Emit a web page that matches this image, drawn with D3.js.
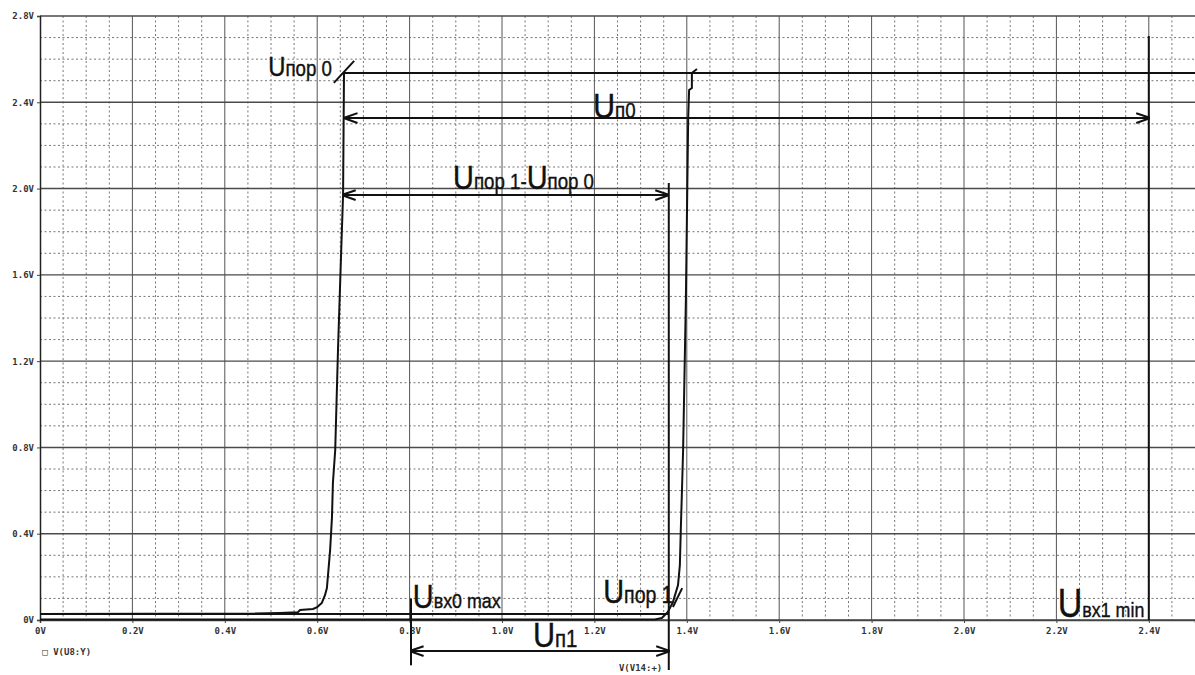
<!DOCTYPE html>
<html>
<head>
<meta charset="utf-8">
<script src="https://cdn.jsdelivr.net/npm/d3@7/dist/d3.min.js"></script>
<style>
  body { margin: 0; background: #fff; }
  text { font-family: "DejaVu Sans Mono", monospace; }
</style>
</head>
<body>
<div id="chart"></div>
<script>
/*global d3*/

// tick values and labels (volts)
var xTicks = [0, 0.2, 0.4, 0.6, 0.8, 1.0, 1.2, 1.4, 1.6, 1.8, 2.0, 2.2, 2.4];
var xTickLabels = ["0V", "0.2V", "0.4V", "0.6V", "0.8V", "1.0V", "1.2V", "1.4V", "1.6V", "1.8V", "2.0V", "2.2V", "2.4V"];
var yTicks = [0, 0.4, 0.8, 1.2, 1.6, 2.0, 2.4, 2.8];
var yTickLabels = ["0V", "0.4V", "0.8V", "1.2V", "1.6V", "2.0V", "2.4V", "2.8V"];

// trace V(U8:Y)
var trace1X = [0, 0.465, 0.519, 0.558, 0.563, 0.591, 0.600, 0.610, 0.617, 0.621, 0.628, 0.632, 0.634, 0.639, 0.645, 0.652, 0.656, 0.658, 2.5];
var trace1Y = [0.028, 0.030, 0.033, 0.036, 0.046, 0.051, 0.060, 0.079, 0.116, 0.148, 0.325, 0.478, 0.635, 0.788, 1.252, 1.715, 1.970, 2.536, 2.536];

// trace V(V14:+)
var trace2X = [0, 1.331, 1.346, 1.359, 1.370, 1.381, 1.385, 1.387, 1.390, 1.392, 1.398, 1.403, 1.405, 1.411, 1.411, 1.422];
var trace2Y = [0.002, 0.002, 0.009, 0.037, 0.083, 0.162, 0.255, 0.417, 0.635, 0.788, 1.484, 2.327, 2.457, 2.466, 2.536, 2.554];

// hand drawn marks, in volts: [x1, y1, x2, y2]
var arrowLines = [
  [0.660, 2.327, 2.400, 2.327],   // Uп0
  [0.656, 1.970, 1.359, 1.970],   // Uпор1 - Uпор0
  [0.803, -0.144, 1.361, -0.144]  // Uп1
];
var plainLines = [
  [2.400, 0, 2.400, 2.707],       // Uвх1 min
  [1.361, 2.026, 1.361, -0.232],  // Uпор 1
  [0.803, 0.100, 0.803, -0.210],  // Uвх0 max
  [0, 0.028, 1.361, 0.028],
  [0.636, 2.490, 0.680, 2.592],   // pointer Uпор 0
  [1.370, 0.060, 1.390, 0.148]    // pointer Uпор 1
];
var labelMain = ["U", "U", "U", "U", "U", "U", "U"];
var labelSub = ["пор 0", "п0", "пор 1-", "вх0 max", "п1", "пор 1", "вх1 min"];
var labelX = [0.494, 1.197, 0.894, 0.807, 1.067, 1.219, 2.203];
var labelY = [2.522, 2.327, 1.998, 0.056, -0.125, 0.079, 0.014];

var width = 1195, height = 675;
var svg = d3.select("#chart").append("svg")
    .attr("width", width)
    .attr("height", height);

var x = d3.scaleLinear().domain([0, 2.5]).range([40, 1195]);
var y = d3.scaleLinear().domain([0, 2.8]).range([620, 16]);

// minor grid (dotted)
svg.append("g").selectAll("line")
  .data(d3.range(1, 50).map(function(i) { return i * 0.05; }).filter(function(v) { return Math.round(v * 100) % 20 != 0; }))
  .enter().append("line")
    .attr("x1", function(d) { return x(d); }).attr("x2", function(d) { return x(d); })
    .attr("y1", y(2.8)).attr("y2", y(0))
    .attr("stroke", "#777").attr("stroke-width", 1)
    .attr("stroke-dasharray", "2,2.5");
svg.append("g").selectAll("line")
  .data(d3.range(1, 28).map(function(i) { return i * 0.1; }).filter(function(v) { return Math.round(v * 10) % 4 != 0; }))
  .enter().append("line")
    .attr("y1", function(d) { return y(d); }).attr("y2", function(d) { return y(d); })
    .attr("x1", x(0)).attr("x2", x(2.5))
    .attr("stroke", "#777").attr("stroke-width", 1)
    .attr("stroke-dasharray", "2,2.5");

// major grid
svg.append("g").selectAll("line")
  .data(xTicks.slice(1))
  .enter().append("line")
    .attr("x1", function(d) { return x(d); }).attr("x2", function(d) { return x(d); })
    .attr("y1", y(2.8)).attr("y2", y(0))
    .attr("stroke", "#555").attr("stroke-width", 1);
svg.append("g").selectAll("line")
  .data(yTicks)
  .enter().append("line")
    .attr("y1", function(d) { return y(d); }).attr("y2", function(d) { return y(d); })
    .attr("x1", x(0)).attr("x2", x(2.5))
    .attr("stroke", "#4a4a4a").attr("stroke-width", 1.4);

// axes
var xAxis = svg.append("g")
    .attr("transform", "translate(0," + y(0) + ")")
    .call(d3.axisBottom(x).tickValues(xTicks).tickSize(3)
      .tickFormat(function(d, i) { return xTickLabels[i]; }));
var yAxis = svg.append("g")
    .attr("transform", "translate(" + x(0) + ",0)")
    .call(d3.axisLeft(y).tickValues(yTicks).tickSize(3)
      .tickFormat(function(d, i) { return yTickLabels[i]; }));
xAxis.select(".domain").attr("stroke", "#444").attr("stroke-width", 1.5);
yAxis.select(".domain").attr("stroke", "#222").attr("stroke-width", 1.5);
svg.selectAll(".tick line").attr("stroke", "#444");
svg.selectAll(".tick text")
    .attr("fill", "#333")
    .style("font-size", "9px")
    .style("font-weight", "bold")
    .style("font-family", "'DejaVu Sans Mono', monospace");
xAxis.selectAll(".tick text").attr("dy", "0.9em");

// trace names under the plot
svg.append("text").attr("x", x(0.005)).attr("y", 655)
    .attr("fill", "#333").style("font-size", "9px").style("font-weight", "bold")
    .text("\u25A1 V(U8:Y)");
svg.append("text").attr("x", x(1.253)).attr("y", 671)
    .attr("fill", "#333").style("font-size", "9px").style("font-weight", "bold")
    .text("V(V14:+)");

// traces
var line = d3.line()
    .x(function(d) { return x(d[0]); })
    .y(function(d) { return y(d[1]); });
svg.append("path")
    .datum(d3.zip(trace1X, trace1Y))
    .attr("fill", "none").attr("stroke", "#111").attr("stroke-width", 2)
    .attr("d", line);
svg.append("path")
    .datum(d3.zip(trace2X, trace2Y))
    .attr("fill", "none").attr("stroke", "#111").attr("stroke-width", 2)
    .attr("d", line);

// arrow heads
var defs = svg.append("defs");
defs.append("marker").attr("id", "arr")
    .attr("viewBox", "0 0 10 10").attr("refX", 9).attr("refY", 5)
    .attr("markerWidth", 7).attr("markerHeight", 7).attr("orient", "auto-start-reverse")
    .append("path").attr("d", "M0,1.5 L10,5 L0,8.5").attr("fill", "none").attr("stroke", "#111").attr("stroke-width", 1.5);

svg.append("g").selectAll("line")
  .data(plainLines)
  .enter().append("line")
    .attr("x1", function(d) { return x(d[0]); }).attr("y1", function(d) { return y(d[1]); })
    .attr("x2", function(d) { return x(d[2]); }).attr("y2", function(d) { return y(d[3]); })
    .attr("stroke", "#111").attr("stroke-width", 2);
svg.append("g").selectAll("line")
  .data(arrowLines)
  .enter().append("line")
    .attr("x1", function(d) { return x(d[0]); }).attr("y1", function(d) { return y(d[1]); })
    .attr("x2", function(d) { return x(d[2]); }).attr("y2", function(d) { return y(d[3]); })
    .attr("stroke", "#111").attr("stroke-width", 2)
    .attr("marker-start", "url(#arr)").attr("marker-end", "url(#arr)");

// annotation labels (narrowed, like the handwritten-ish condensed font)
var bigSize = [28, 36, 34, 34, 36, 34, 40];
var subSize = [22, 22, 22, 21, 24, 23, 21];
var lab = svg.append("g").selectAll("text")
  .data(labelMain)
  .enter().append("text")
    .attr("transform", function(d, i) {
      return "translate(" + x(labelX[i]) + "," + y(labelY[i]) + ") scale(0.85,1)";
    })
    .attr("fill", "#111")
    .attr("stroke", "#111").attr("stroke-width", 0.4)
    .style("font-family", "'Liberation Sans', Arial, sans-serif");
lab.append("tspan")
    .style("font-size", function(d, i) { return bigSize[i] + "px"; })
    .text(function(d) { return d; });
lab.append("tspan")
    .style("font-size", function(d, i) { return subSize[i] + "px"; })
    .text(function(d, i) { return labelSub[i]; });
// second half of "Uпор 1-Uпор 0"
lab.filter(function(d, i) { return i == 2; })
  .append("tspan").style("font-size", "34px").text("U");
lab.filter(function(d, i) { return i == 2; })
  .append("tspan").style("font-size", "22px").text("пор 0");
</script>
</body>
</html>
